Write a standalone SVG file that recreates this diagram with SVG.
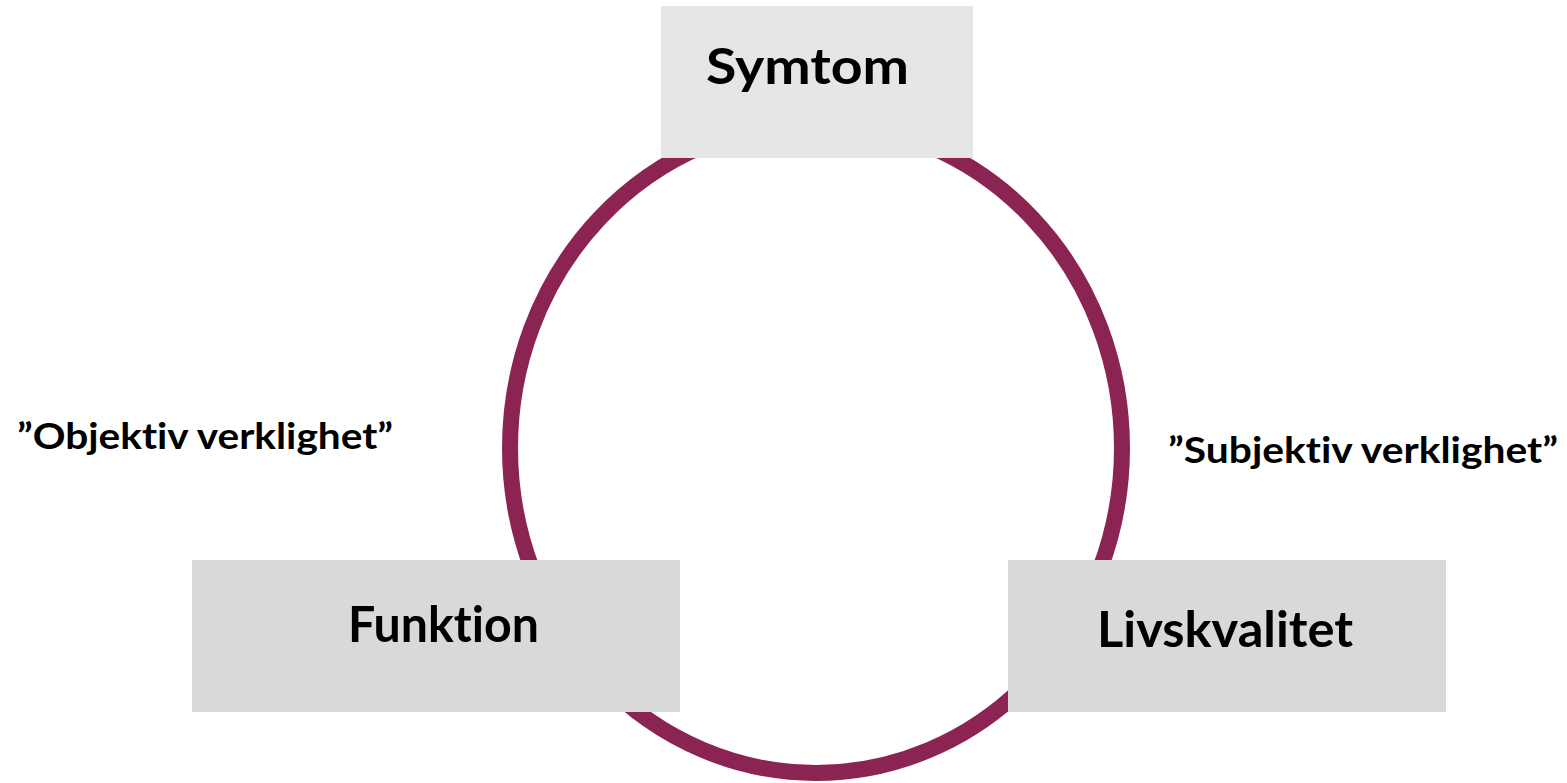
<svg xmlns="http://www.w3.org/2000/svg" width="1567" height="783" viewBox="0 0 1567 783">
<style>
.lbl{font-family:Lato,"Open Sans","Liberation Sans",sans-serif;font-weight:bold;fill:#000;font-variant-ligatures:none;font-feature-settings:"liga" 0,"clig" 0,"dlig" 0}
.big{font-size:50px}
.small{font-size:37px}
.ring{fill:none;stroke:#8b2452;stroke-width:16}
</style>
<rect width="1567" height="783" fill="#ffffff"/>
<g id="connectors">
<ellipse class="ring" cx="816" cy="448" rx="306" ry="325"/>
</g>
<g id="symtom">
<rect x="661" y="6" width="312" height="152" fill="#e6e6e6"/>
<text class="lbl big" x="706" y="84" textLength="203" lengthAdjust="spacingAndGlyphs">Symtom</text>
</g>
<g id="funktion">
<rect x="192" y="560" width="488" height="152" fill="#d9d9d9"/>
<text class="lbl big" x="348" y="642" textLength="191" lengthAdjust="spacingAndGlyphs">Funktion</text>
</g>
<g id="livskvalitet">
<rect x="1008" y="560" width="438" height="152" fill="#d9d9d9"/>
<text class="lbl big" x="1097" y="647" textLength="256" lengthAdjust="spacingAndGlyphs">Livskvalitet</text>
</g>
<g id="objektiv">
<text class="lbl small" x="17" y="449" textLength="376" lengthAdjust="spacingAndGlyphs">”Objektiv verklighet”</text>
</g>
<g id="subjektiv">
<text class="lbl small" x="1168" y="463" textLength="390" lengthAdjust="spacingAndGlyphs">”Subjektiv verklighet”</text>
</g>
</svg>
